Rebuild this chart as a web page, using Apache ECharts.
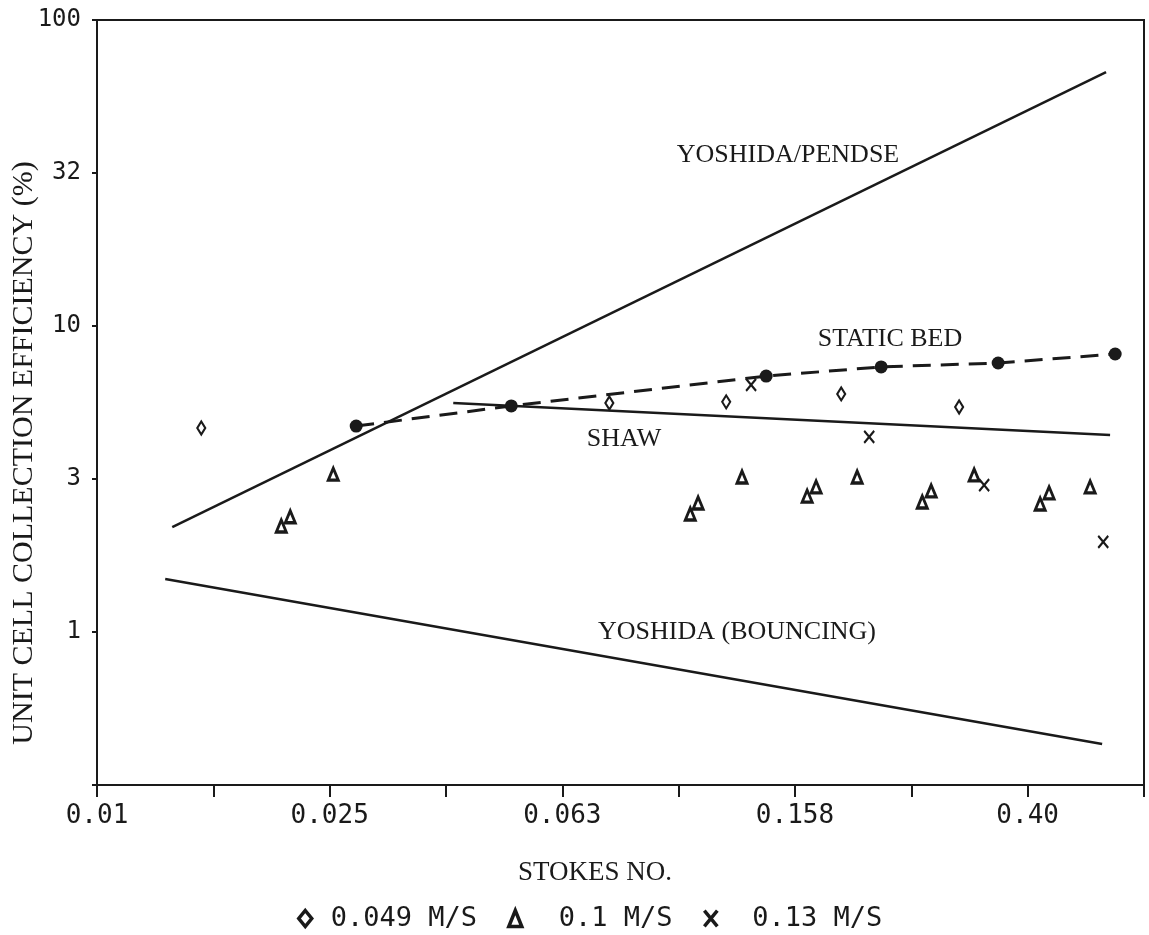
<!DOCTYPE html>
<html>
<head>
<meta charset="utf-8">
<script src="https://cdn.jsdelivr.net/npm/echarts@6/dist/echarts.min.js"></script>
<style>html,body{margin:0;padding:0;background:#fff}#c{width:1149px;height:935px}</style>
</head>
<body>
<div id="c"></div>
<script>
const xTickValues = [0.01, 0.025, 0.063, 0.158, 0.40];
const xTickLabels = ['0.01', '0.025', '0.063', '0.158', '0.40'];
const yTickValues = [1, 3, 10, 32, 100];
const yTickLabels = ['1', '3', '10', '32', '100'];

const pendseX = [0.01347, 0.5430];
const pendseY = [2.20, 67.6];
const bouncingX = [0.01310, 0.5346];
const bouncingY = [1.49, 0.4305];
const shawX = [0.04097, 0.5517];
const shawY = [5.60, 4.40];
const staticBedX = [0.0279, 0.05155, 0.1414, 0.2229, 0.3542, 0.5629];
const staticBedY = [4.71, 5.48, 6.86, 7.35, 7.57, 8.10];

const v049X = [0.01511, 0.0760, 0.1207, 0.1903, 0.3035];
const v049Y = [4.64, 5.60, 5.65, 6.00, 5.44];
const v01X = [0.02074, 0.02149, 0.02548, 0.1047, 0.1080, 0.1285, 0.1663, 0.1723, 0.2027, 0.2623, 0.2717, 0.3221, 0.4183, 0.4333, 0.5098];
const v01Y = [2.22, 2.38, 3.28, 2.43, 2.64, 3.21, 2.78, 2.98, 3.21, 2.66, 2.89, 3.26, 2.62, 2.85, 2.98];
const v013X = [0.1332, 0.2126, 0.3351, 0.5369];
const v013Y = [6.42, 4.34, 3.02, 1.97];

const seriesNames = ['0.049 M/S', '0.1 M/S', '0.13 M/S'];

// ---- helpers ----
const L = Math.log10;
const pts = (xs, ys) => xs.map((x, i) => [L(x), L(ys[i])]);
function labelFor(v, vals, labs, tol) {
  for (let i = 0; i < vals.length; i++) if (Math.abs(L(vals[i]) - v) < tol) return labs[i];
  return '';
}
const INK = '#1a1a1a';
const SERIF = '"Liberation Serif", "DejaVu Serif", serif';
const MONO = '"DejaVu Sans Mono", "Liberation Mono", monospace';
const xPath = 'path://M0,0L10,12M10,0L0,12';
const txt = (x, y, text, size, extra) => Object.assign({
  type: 'text', x: x, y: y,
  style: {text: text, font: size + 'px ' + SERIF, fill: INK, align: 'center', verticalAlign: 'middle', textAlign: 'center', textVerticalAlign: 'middle'}
}, extra || {});

const chart = echarts.init(document.getElementById('c'), null, {renderer: 'canvas'});
chart.setOption({
  backgroundColor: '#fff',
  animation: false,
  grid: {left: 97, right: 5, top: 20, bottom: 150, show: true, borderColor: INK, borderWidth: 2},
  xAxis: {
    type: 'value', min: -2, max: -0.2, interval: 0.2,
    axisLine: {show: true, onZero: false, lineStyle: {color: INK, width: 2}},
    axisTick: {show: true, inside: false, length: 12, lineStyle: {color: INK, width: 2}},
    splitLine: {show: false},
    axisLabel: {
      margin: 18, color: INK, fontFamily: MONO, fontSize: 26,
      formatter: v => labelFor(v, xTickValues, xTickLabels, 0.01)
    }
  },
  yAxis: {
    type: 'value', min: -0.5, max: 2, interval: 0.5,
    axisLine: {show: true, onZero: false, lineStyle: {color: INK, width: 2}},
    axisTick: {show: true, inside: false, length: 5, lineStyle: {color: INK, width: 2}},
    splitLine: {show: false},
    axisLabel: {
      margin: 16, color: INK, fontFamily: MONO, fontSize: 24,
      formatter: v => labelFor(v, yTickValues, yTickLabels, 0.03)
    }
  },
  legend: {
    left: 292, top: 900, itemGap: 30, itemWidth: 13, itemHeight: 16,
    textStyle: {color: INK, fontFamily: MONO, fontSize: 27},
    data: [
      {name: seriesNames[0], itemStyle: {color: '#fff', borderColor: INK, borderWidth: 3.5}, textStyle: {padding: [0, 0, 0, 14]}},
      {name: seriesNames[1], itemStyle: {color: '#fff', borderColor: INK, borderWidth: 3.5}, textStyle: {padding: [0, 0, 0, 32]}},
      {name: seriesNames[2], itemStyle: {color: INK, borderColor: INK, borderWidth: 3.5}, textStyle: {padding: [0, 0, 0, 30]}}
    ]
  },
  series: [
    {type: 'line', name: 'YOSHIDA/PENDSE', data: pts(pendseX, pendseY), showSymbol: false, symbol: 'none',
     lineStyle: {color: INK, width: 2.5}},
    {type: 'line', name: 'YOSHIDA (BOUNCING)', data: pts(bouncingX, bouncingY), showSymbol: false, symbol: 'none',
     lineStyle: {color: INK, width: 2.5}},
    {type: 'line', name: 'SHAW', data: pts(shawX, shawY), showSymbol: false, symbol: 'none',
     lineStyle: {color: INK, width: 2.5}},
    {type: 'line', name: 'STATIC BED', data: pts(staticBedX, staticBedY), symbol: 'circle', symbolSize: 13, showSymbol: true,
     itemStyle: {color: INK}, lineStyle: {color: INK, width: 3, type: [18, 10]}},
    {type: 'scatter', name: seriesNames[0], data: pts(v049X, v049Y), symbol: 'diamond', symbolSize: [8, 13],
     itemStyle: {color: '#fff', borderColor: INK, borderWidth: 2.2, opacity: 1}},
    {type: 'scatter', name: seriesNames[1], data: pts(v01X, v01Y), symbol: 'triangle', symbolSize: [10, 12],
     itemStyle: {color: '#fff', borderColor: INK, borderWidth: 3, opacity: 1}},
    {type: 'scatter', name: seriesNames[2], data: pts(v013X, v013Y), symbol: xPath, symbolSize: [10, 12],
     itemStyle: {color: INK, borderColor: INK, borderWidth: 2.2, opacity: 1}}
  ],
  graphic: [
    txt(788, 155, 'YOSHIDA/PENDSE', 26),
    txt(890, 339, 'STATIC BED', 26),
    txt(624, 439, 'SHAW', 26),
    txt(737, 632, 'YOSHIDA (BOUNCING)', 26),
    txt(595, 873, 'STOKES NO.', 27),
    txt(24, 453, 'UNIT CELL COLLECTION EFFICIENCY (%)', 30, {rotation: Math.PI / 2})
  ]
});
</script>
</body>
</html>
